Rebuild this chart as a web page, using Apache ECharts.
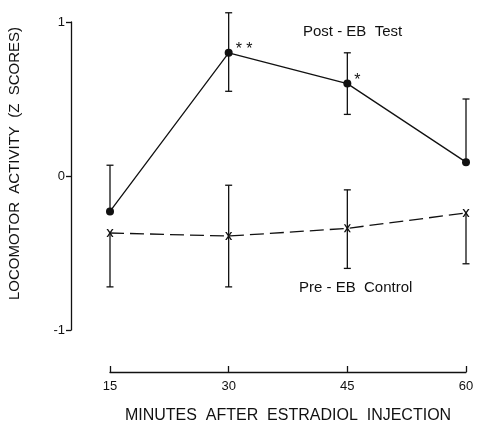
<!DOCTYPE html>
<html>
<head>
<meta charset="utf-8">
<script src="https://cdn.jsdelivr.net/npm/echarts@6/dist/echarts.min.js"></script>
<style>
  html, body { margin: 0; padding: 0; background: #fff; }
  #chart { width: 477px; height: 432px; }
</style>
</head>
<body>
<div id="chart"></div>
<script>
// minutes after injection
const minutes = [15, 30, 45, 60];
const yTicks = [-1, 0, 1];

// Post-EB Test (z scores) with error bar ends
const postMean = [-0.23, 0.80, 0.60, 0.09];
const postHigh = [0.07, 1.06, 0.80, 0.50];
const postLow  = [-0.23, 0.55, 0.40, 0.09];
const postStars = ['', '* *', '*', ''];

// Pre-EB Control
const preMean = [-0.37, -0.39, -0.34, -0.24];
const preHigh = [-0.37, -0.06, -0.09, -0.24];
const preLow  = [-0.72, -0.72, -0.60, -0.57];

const fontFam = '"Liberation Sans", Arial, sans-serif';
const xPath = 'path://M0,0 L2.2,0 L5,3.6 L7.8,0 L10,0 L6.2,5 L10,10 L7.8,10 L5,6.4 L2.2,10 L0,10 L3.8,5 Z';

function errBars(mean, high, low) {
    return minutes.map((m, i) => [m, low[i], high[i], mean[i]]);
}

function renderErr(params, api) {
    const x = api.value(0);
    const lo = api.value(1), hi = api.value(2), mid = api.value(3);
    const pLo = api.coord([x, lo]);
    const pHi = api.coord([x, hi]);
    const cap = 3.5;
    const kids = [{
        type: 'line',
        shape: { x1: pLo[0], y1: pLo[1], x2: pHi[0], y2: pHi[1] },
        style: { stroke: '#111', lineWidth: 1.3 }
    }];
    if (hi !== mid) {
        kids.push({ type: 'line', shape: { x1: pHi[0] - cap, y1: pHi[1], x2: pHi[0] + cap, y2: pHi[1] },
            style: { stroke: '#111', lineWidth: 1.3 } });
    }
    if (lo !== mid) {
        kids.push({ type: 'line', shape: { x1: pLo[0] - cap, y1: pLo[1], x2: pLo[0] + cap, y2: pLo[1] },
            style: { stroke: '#111', lineWidth: 1.3 } });
    }
    return { type: 'group', children: kids };
}

const chart = echarts.init(document.getElementById('chart'));
chart.setOption({
    animation: false,
    backgroundColor: '#fff',
    grid: { left: 110, right: 11, top: 22, bottom: 102 },
    xAxis: {
        type: 'value',
        min: 15, max: 60, interval: 15,
        offset: 42,
        splitLine: { show: false },
        axisLine: { onZero: false, lineStyle: { color: '#111', width: 1.4 } },
        axisTick: { inside: true, length: 6, lineStyle: { color: '#111', width: 1.3 } },
        axisLabel: { color: '#111', fontFamily: fontFam, fontSize: 13, margin: 8 },
        name: 'MINUTES  AFTER  ESTRADIOL  INJECTION',
        nameLocation: 'middle',
        nameGap: 36,
        nameTextStyle: { color: '#111', fontFamily: fontFam, fontSize: 16 }
    },
    yAxis: {
        type: 'value',
        min: -1, max: 1, interval: 1,
        offset: 39,
        splitLine: { show: false },
        axisLine: { show: true, onZero: false, lineStyle: { color: '#111', width: 1.3 } },
        axisTick: { show: true, length: 5, lineStyle: { color: '#111', width: 1.3 } },
        axisLabel: {
            color: '#111', fontFamily: fontFam, fontSize: 13, margin: 6,
            formatter: v => yTicks.indexOf(v) > -1 ? String(v) : ''
        }
    },
    graphic: [
        {
            type: 'text', left: 7, top: 27, rotation: Math.PI / 2,
            style: { text: 'LOCOMOTOR  ACTIVITY  (Z  SCORES)', fill: '#111', font: '15px ' + fontFam }
        },
        {
            type: 'text', left: 303, top: 24,
            style: { text: 'Post - EB  Test', fill: '#111', font: '15px ' + fontFam }
        },
        {
            type: 'text', left: 299, top: 280,
            style: { text: 'Pre - EB  Control', fill: '#111', font: '15px ' + fontFam }
        }
    ],
    series: [
        {
            type: 'custom', name: 'post err', renderItem: renderErr,
            data: errBars(postMean, postHigh, postLow), z: 2
        },
        {
            type: 'custom', name: 'pre err', renderItem: renderErr,
            data: errBars(preMean, preHigh, preLow), z: 2
        },
        {
            type: 'line', name: 'Post-EB Test',
            data: minutes.map((m, i) => ({
                value: [m, postMean[i]],
                label: {
                    show: postStars[i] !== '', formatter: postStars[i], position: 'right',
                    distance: 3, offset: [0, -3], color: '#111', fontSize: 16, fontFamily: fontFam
                }
            })),
            symbol: 'circle', symbolSize: 8,
            itemStyle: { color: '#111' },
            lineStyle: { color: '#111', width: 1.3 },
            z: 3
        },
        {
            type: 'line', name: 'Pre-EB Control',
            data: minutes.map((m, i) => [m, preMean[i]]),
            symbol: xPath, symbolSize: [7, 8],
            itemStyle: { color: '#111' },
            lineStyle: { color: '#111', width: 1.3, type: [14, 6] },
            z: 3
        }
    ]
});
</script>
</body>
</html>
